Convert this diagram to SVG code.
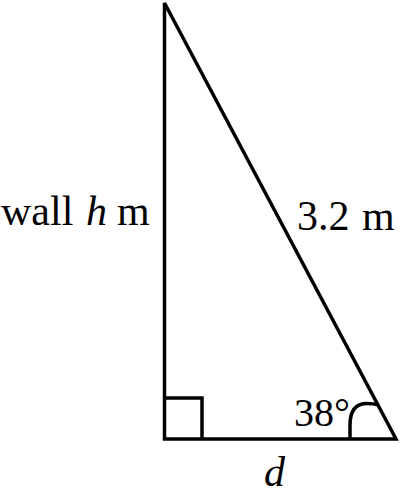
<svg xmlns="http://www.w3.org/2000/svg" width="400" height="496" viewBox="0 0 400 496">
<style>
.ln{fill:none;stroke:#000;stroke-width:3.5}
.t{font-family:"Liberation Serif","Times New Roman",serif;font-size:42px;fill:#000}
.i{font-style:italic}
</style>
<rect width="400" height="496" fill="#fff"/>
<g id="triangle">
<path class="ln" d="M164.5,3 L164.5,439 L396,439 Z"/>
</g>
<g id="right-angle">
<path class="ln" d="M164.5,398 L202,398 L202,439"/>
</g>
<g id="angle-arc">
<path class="ln" d="M350,439 L350,425 Q350,403.5 367,403.5 Q373,403.5 379,405"/>
</g>
<g id="labels">
<text class="t" y="225"><tspan x="1">wall</tspan><tspan class="i" x="86">h</tspan><tspan x="117">m</tspan></text>
<text class="t" y="230"><tspan x="297">3.2</tspan><tspan x="362">m</tspan></text>
<text class="t" x="294" y="426" style="font-size:40px">38°</text>
<text class="t i" x="264" y="486">d</text>
</g>
</svg>
